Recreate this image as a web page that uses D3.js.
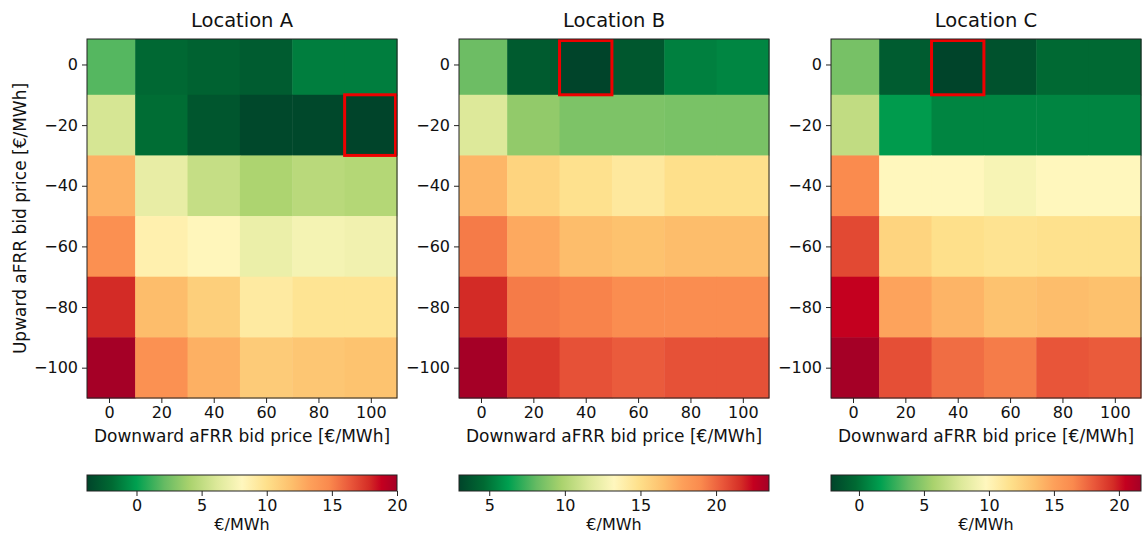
<!DOCTYPE html>
<html><head><meta charset="utf-8">
<script src="https://cdn.jsdelivr.net/npm/d3@7"></script>
<style>
body{margin:0;background:#fff;}
svg{font-family:"DejaVu Sans",sans-serif;}
</style></head>
<body><svg id="c" width="1147" height="535"></svg>
<script>
const xVals = [0, 20, 40, 60, 80, 100];
const yVals = [0, -20, -40, -60, -80, -100];
const titles = ["Location A", "Location B", "Location C"];
const xLabel = "Downward aFRR bid price [€/MWh]";
const yLabel = "Upward aFRR bid price [€/MWh]";
const cbarLabel = "€/MWh";
const xTicks = [0, 20, 40, 60, 80, 100];
const yTicks = [0, -20, -40, -60, -80, -100];

// rows follow yVals, columns follow xVals
const valuesA = [
  [1.8, -2.0, -2.3, -2.6, -1.2, -1.2],
  [5.9, -1.8, -2.9, -3.6, -3.6, -3.8],
  [12.5, 6.8, 5.2, 4.2, 4.7, 4.5],
  [14.4, 8.7, 8.2, 7.0, 7.5, 7.3],
  [17.9, 12.0, 11.0, 9.2, 9.7, 9.7],
  [20.0, 14.3, 12.6, 11.2, 11.5, 11.7]
];
const valuesB = [
  [8.3, 4.0, 3.0, 3.8, 5.3, 5.5],
  [11.6, 9.2, 8.7, 8.7, 8.6, 8.6],
  [16.9, 15.5, 14.8, 14.3, 14.9, 14.9],
  [19.4, 17.4, 16.6, 16.4, 16.6, 16.6],
  [21.7, 19.4, 19.2, 18.8, 18.8, 18.8],
  [23.5, 21.3, 20.6, 20.3, 20.6, 20.6]
];
const valuesC = [
  [4.3, -0.95, -2.15, -1.45, -0.3, -0.3],
  [6.7, 1.5, 0.7, 0.7, 0.7, 0.7],
  [16.4, 9.8, 9.8, 9.3, 9.8, 9.8],
  [18.6, 12.4, 11.7, 11.45, 11.6, 11.6],
  [20.5, 14.9, 14.1, 13.4, 13.7, 13.5],
  [21.7, 18.4, 17.4, 16.9, 18.2, 18.0]
];
const cbarTicksA = [0, 5, 10, 15, 20];
const cbarTicksB = [5, 10, 15, 20];
const cbarTicksC = [0, 5, 10, 15, 20];
// highlighted (optimal) cell per panel: [x, y]
const bestA = [100, -20];
const bestB = [40, 0];
const bestC = [40, 0];

const panels = [
  {title: titles[0], values: valuesA, cticks: cbarTicksA, best: bestA},
  {title: titles[1], values: valuesB, cticks: cbarTicksB, best: bestB},
  {title: titles[2], values: valuesC, cticks: cbarTicksC, best: bestC}
];

// colormap (reversed red-yellow-green) stops
const cmapT = [0.00, 0.08, 0.16, 0.25, 0.33, 0.42, 0.50, 0.58, 0.66, 0.72, 0.78, 0.85, 0.91, 0.95, 1.00];
const cmapC = ["#00442a", "#006a33", "#00a050", "#66bb63", "#a9d26d", "#dde99a", "#fff7be",
               "#fee08b", "#fdbf6c", "#fda05a", "#fa8a4e", "#e9573a", "#d42d26", "#c4001f", "#a50026"];

const svg = d3.select("#c");
const plotW = 310, plotTop = 39, plotBot = 398;
const lefts = [87, 459, 831];
const cbTop = 475, cbH = 16;
const axisColor = "#222";

panels.forEach((p, i) => {
  const L = lefts[i];
  const x = d3.scaleLinear().domain([-8.4, 110]).range([L, L + plotW]);
  const y = d3.scaleLinear().domain([8.4, -110]).range([plotTop, plotBot]);
  const flat = p.values.flat();
  const [vmin, vmax] = d3.extent(flat);
  const color = d3.scaleLinear()
    .domain(cmapT.map(t => vmin + t * (vmax - vmin)))
    .range(cmapC).interpolate(d3.interpolateRgb).clamp(true);

  const cells = [];
  p.values.forEach((row, r) => row.forEach((v, c) => cells.push({xv: xVals[c], yv: yVals[r], v})));
  const cx0 = d => x(Math.max(d.xv - 10, -8.4));
  const cx1 = d => x(Math.min(d.xv + 10, 110));
  const cy0 = d => y(Math.min(d.yv + 10, 8.4));
  const cy1 = d => y(Math.max(d.yv - 10, -110));

  const g = svg.append("g");
  g.selectAll("rect.cell").data(cells).join("rect").attr("class", "cell")
    .attr("x", cx0).attr("y", cy0)
    .attr("width", d => cx1(d) - cx0(d) + 0.5).attr("height", d => cy1(d) - cy0(d) + 0.5)
    .attr("fill", d => color(d.v));

  // highlight box
  const b = {xv: p.best[0], yv: p.best[1]};
  const bx0 = Math.max(cx0(b), L + 1.5), bx1 = Math.min(cx1(b), L + plotW - 1.5);
  const by0 = Math.max(cy0(b), plotTop + 1.5), by1 = Math.min(cy1(b), plotBot - 1.5);
  g.append("rect").attr("x", bx0).attr("y", by0).attr("width", bx1 - bx0).attr("height", by1 - by0)
    .attr("fill", "none").attr("stroke", "#ee0000").attr("stroke-width", 3);

  // frame
  g.append("rect").attr("x", L).attr("y", plotTop).attr("width", plotW).attr("height", plotBot - plotTop)
    .attr("fill", "none").attr("stroke", axisColor).attr("stroke-width", 1);

  // axes
  const xa = g.append("g").attr("transform", `translate(0,${plotBot})`)
    .call(d3.axisBottom(x).tickValues(xTicks).tickSize(5).tickPadding(4).tickFormat(d3.format("d")));
  const ya = g.append("g").attr("transform", `translate(${L},0)`)
    .call(d3.axisLeft(y).tickValues(yTicks).tickSize(5).tickPadding(4).tickFormat(d => d < 0 ? "\u2212" + Math.abs(d) : d));
  [xa, ya].forEach(a => {
    a.select(".domain").remove();
    a.selectAll("line").attr("stroke", axisColor);
    a.selectAll("text").attr("fill", "#111").style("font-size", "16px").style("font-family", "DejaVu Sans");
  });

  g.append("text").attr("x", L + plotW / 2).attr("y", 27).attr("text-anchor", "middle")
    .style("font-size", "19.5px").attr("fill", "#111").text(p.title);
  g.append("text").attr("x", L + plotW / 2).attr("y", 442).attr("text-anchor", "middle")
    .style("font-size", "17px").attr("fill", "#111").text(xLabel);
  if (i === 0) {
    g.append("text").attr("transform", `translate(26,${(plotTop + plotBot) / 2}) rotate(-90)`)
      .attr("text-anchor", "middle").style("font-size", "17px").attr("fill", "#111").text(yLabel);
  }

  // colorbar
  const gid = "grad" + i;
  const grad = svg.append("defs").append("linearGradient").attr("id", gid)
    .attr("x1", "0%").attr("x2", "100%").attr("y1", "0%").attr("y2", "0%");
  cmapT.forEach((t, k) => grad.append("stop").attr("offset", (t * 100) + "%").attr("stop-color", cmapC[k]));
  const cx = d3.scaleLinear().domain([vmin, vmax]).range([L, L + plotW]);
  g.append("rect").attr("x", L).attr("y", cbTop).attr("width", plotW).attr("height", cbH)
    .attr("fill", `url(#${gid})`).attr("stroke", axisColor).attr("stroke-width", 1);
  const ca = g.append("g").attr("transform", `translate(0,${cbTop + cbH})`)
    .call(d3.axisBottom(cx).tickValues(p.cticks).tickSize(5).tickPadding(4).tickFormat(d3.format("d")));
  ca.select(".domain").remove();
  ca.selectAll("line").attr("stroke", axisColor);
  ca.selectAll("text").attr("fill", "#111").style("font-size", "16px").style("font-family", "DejaVu Sans");
  g.append("text").attr("x", L + plotW / 2).attr("y", 530).attr("text-anchor", "middle")
    .style("font-size", "16px").attr("fill", "#111").text(cbarLabel);
});
</script></body></html>
